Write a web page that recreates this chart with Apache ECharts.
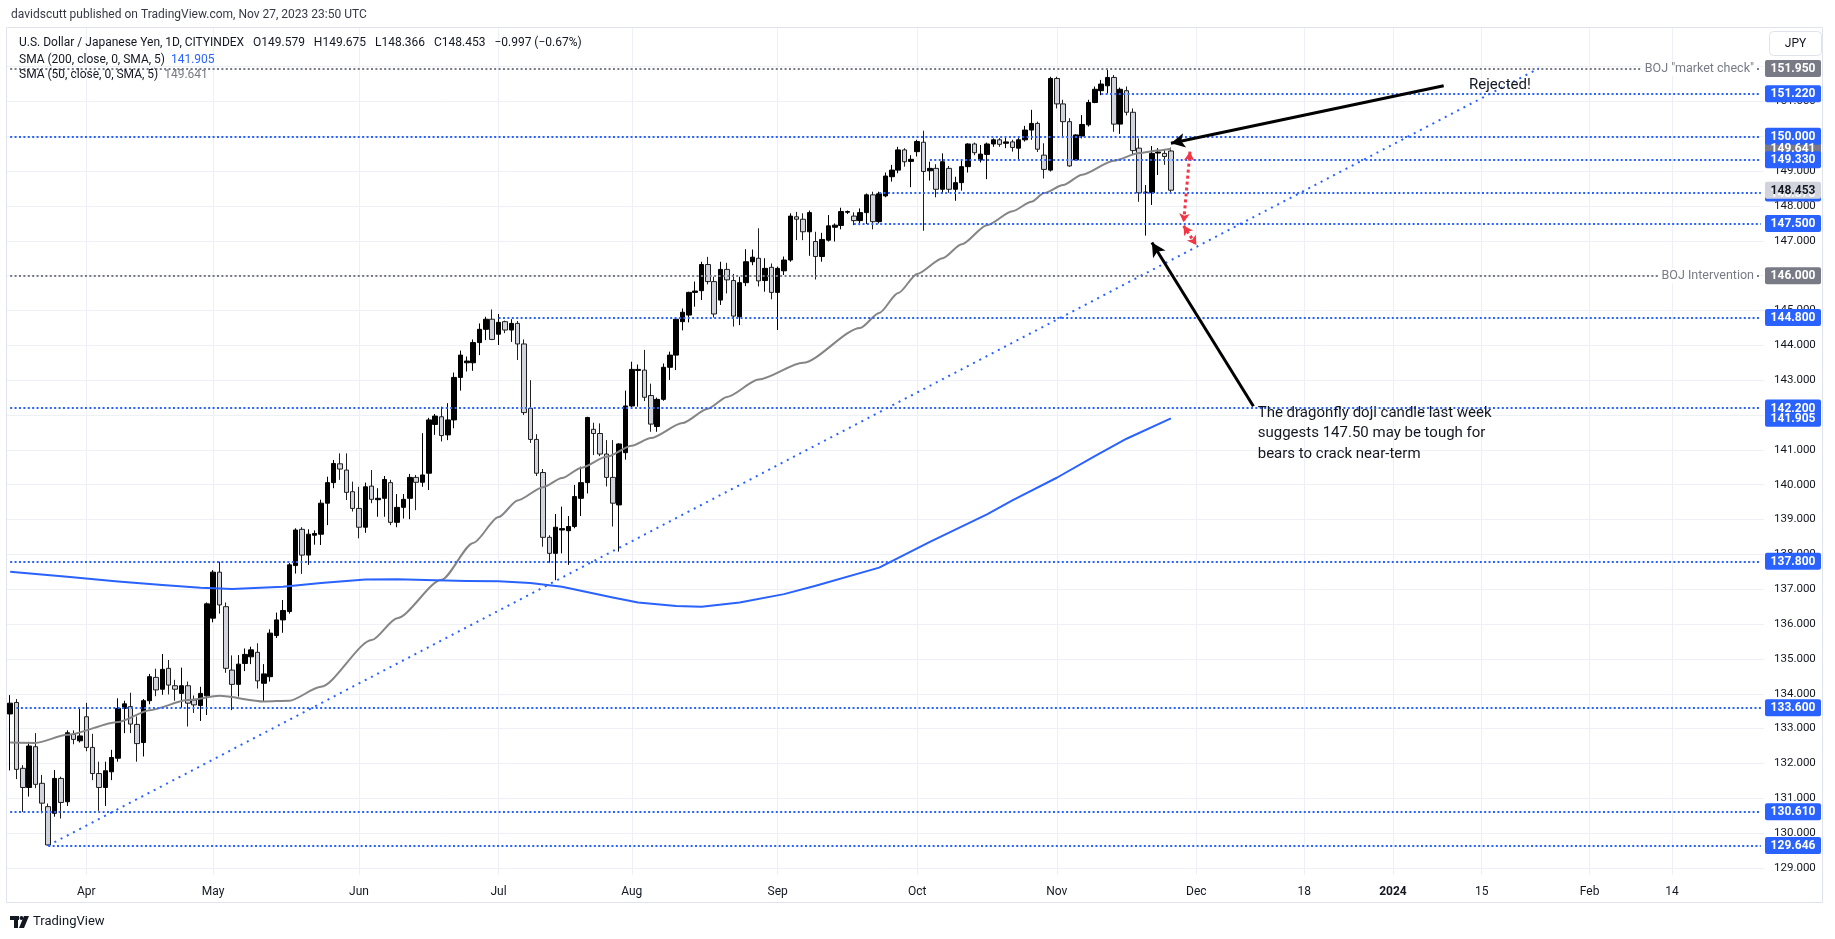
<!DOCTYPE html>
<html>
<head>
<meta charset="utf-8">
<script src="https://cdn.jsdelivr.net/npm/echarts@6/dist/echarts.min.js"></script>
<style>
  html, body { margin: 0; padding: 0; background: #fff; }
  #chart { width: 1835px; height: 939px; }
</style>
</head>
<body>
<div id="chart"></div>
<script>
const FONT = 'Roboto, "Liberation Sans", Arial, sans-serif';
const BLUE = '#2962ff';
const GREY = '#787b86';
const INK = '#131722';

// sessions of the feed: weekdays, plus one short Sunday bar
const sessionStart = '2023-03-16';
const sessionEnd = '2023-11-27';
const extraSessions = ['2023-09-17'];
const futureEnd = '2024-02-28';

const opens = [
  133.42, 133.75, 131.86, 131.31, 132.48, 131.43, 130.76, 130.57, 131.57, 130.90, 132.84, 132.65,
  133.34, 132.46, 131.71, 131.31, 131.76, 132.15, 133.58, 133.63, 133.12, 132.60, 133.80, 134.47, 134.13, 134.73, 134.23, 134.01, 134.23, 133.82, 133.66, 133.94,
  136.17, 137.49, 136.50, 134.68, 134.27, 134.87, 135.06, 135.19, 134.30, 134.49, 135.67, 136.12, 136.36, 137.68, 138.72, 137.98, 138.55, 138.58, 139.47, 140.06, 140.60, 140.42, 139.80,
  139.32, 138.78, 139.96, 139.57, 139.61, 140.06, 138.92, 139.35, 139.61, 140.21, 140.07, 140.33, 141.73, 141.95, 141.43, 141.86, 143.08, 143.50, 143.50, 144.08, 144.46, 144.75,
  144.32, 144.68, 144.44, 144.63, 144.04, 142.19, 141.30, 140.35, 138.49, 138.03, 138.70, 138.68, 138.80, 139.61, 140.06, 141.59, 141.47, 140.88, 140.21, 139.42, 140.92,
  142.26, 143.28, 143.29, 142.56, 141.67, 142.45, 143.37, 143.72, 144.68, 144.87, 145.52, 145.57, 146.32, 145.83, 145.30, 146.18, 145.86, 144.82, 145.80, 146.40, 146.50, 145.86, 146.24,
  145.52, 146.14, 146.45, 147.69, 147.62, 147.26, 146.98, 146.55, 147.02, 147.39, 147.44, 147.82, 147.71, 147.58, 147.81, 148.32, 147.55, 148.29, 148.84, 149.03, 149.61, 149.28,
  149.56, 149.83, 149.01, 149.08, 148.48, 149.08, 148.48, 148.67, 149.13, 149.78, 149.32, 149.48, 149.78, 149.90, 149.80, 149.84, 149.66, 149.90, 150.18, 150.37, 149.46, 149.03,
  151.66, 150.93, 150.42, 149.32, 150.01, 150.33, 150.97, 151.31, 151.45, 151.69, 150.35, 151.31, 150.69, 149.66, 148.38, 148.38, 149.52, 149.51, 149.579
];
const highs = [
  133.96, 133.85, 131.95, 132.62, 132.87, 131.67, 130.85, 131.81, 131.62, 132.95, 132.95, 133.58,
  133.74, 132.85, 132.05, 132.05, 132.39, 133.87, 133.80, 134.03, 133.35, 133.85, 134.57, 134.72, 135.14, 134.97, 134.40, 134.75, 134.35, 133.95, 134.20, 136.62,
  137.55, 137.79, 136.62, 135.10, 135.11, 135.30, 135.35, 135.45, 134.85, 135.85, 136.33, 136.69, 137.75, 138.75, 138.78, 138.72, 138.69, 139.57, 140.23, 140.71, 140.90, 140.90, 140.09,
  139.94, 140.06, 140.42, 139.90, 140.25, 140.14, 139.73, 139.73, 140.31, 140.28, 141.48, 141.92, 142.03, 142.24, 142.34, 143.22, 143.85, 143.68, 144.17, 144.63, 144.82, 145.03,
  144.90, 144.71, 144.75, 144.70, 144.17, 143.00, 141.45, 140.45, 138.55, 139.16, 139.37, 139.10, 139.99, 140.52, 141.95, 141.78, 141.76, 141.28, 141.28, 141.19, 142.70,
  143.53, 143.45, 143.87, 142.90, 142.50, 143.48, 143.82, 144.78, 145.06, 145.54, 145.83, 146.40, 146.54, 145.97, 146.40, 146.37, 146.05, 145.97, 146.76, 146.75, 147.36, 146.50, 146.35,
  146.26, 146.55, 147.79, 147.83, 147.79, 147.87, 147.26, 147.23, 147.74, 147.50, 147.95, 147.87, 147.82, 147.93, 148.36, 148.41, 148.41, 148.96, 149.18, 149.70, 149.66, 149.46,
  149.90, 150.16, 149.27, 149.20, 149.51, 149.15, 148.84, 149.32, 149.80, 149.82, 149.75, 149.82, 149.94, 149.95, 149.97, 149.90, 149.95, 150.30, 150.76, 150.42, 149.80, 151.71,
  151.71, 151.05, 150.52, 150.06, 150.61, 151.05, 151.43, 151.62, 151.91, 151.76, 151.40, 151.43, 150.80, 149.94, 148.60, 149.72, 149.66, 149.62, 149.675
];
const lows = [
  131.80, 131.55, 130.61, 131.05, 131.29, 130.57, 129.646, 130.47, 130.42, 130.78, 132.55, 132.60,
  132.35, 131.52, 130.64, 130.78, 131.52, 132.05, 132.87, 132.87, 132.05, 132.20, 133.70, 133.93, 133.97, 133.98, 133.80, 133.60, 133.06, 133.45, 133.22, 133.39,
  136.05, 136.30, 134.60, 133.53, 133.92, 134.65, 134.85, 134.15, 133.77, 134.35, 135.60, 135.75, 136.30, 137.45, 137.44, 137.70, 138.28, 138.27, 138.84, 139.90, 140.14, 139.56, 139.23,
  138.46, 138.62, 139.47, 139.08, 139.08, 138.84, 138.78, 139.03, 139.01, 139.27, 139.94, 139.85, 141.43, 141.24, 141.28, 141.62, 142.70, 143.25, 143.27, 143.72, 144.15, 144.15,
  144.01, 144.35, 144.10, 143.58, 142.00, 141.20, 140.25, 138.22, 137.76, 137.26, 138.03, 137.70, 138.75, 139.10, 139.75, 140.85, 140.82, 139.95, 138.80, 138.08, 140.72,
  142.19, 142.24, 142.40, 141.52, 141.52, 142.41, 143.01, 143.29, 144.43, 144.66, 145.11, 145.30, 145.75, 144.80, 145.16, 145.49, 144.54, 144.58, 145.70, 146.30, 145.69, 145.54, 145.32,
  144.44, 146.02, 146.40, 147.02, 147.02, 146.57, 145.89, 146.40, 146.98, 146.98, 147.33, 147.77, 147.45, 147.45, 147.48, 147.33, 147.50, 148.25, 148.70, 148.94, 149.13, 148.54,
  149.42, 147.29, 148.73, 148.25, 148.36, 148.38, 148.15, 148.44, 148.96, 149.46, 149.25, 148.77, 149.70, 149.70, 149.66, 149.56, 149.32, 149.85, 149.90, 149.55, 148.79, 148.99,
  150.80, 149.99, 149.13, 149.30, 149.94, 150.28, 150.95, 151.18, 151.23, 150.13, 150.07, 150.60, 149.46, 148.12, 147.15, 148.03, 148.89, 149.18, 148.366
];
const closes = [
  133.73, 131.83, 131.31, 132.50, 131.40, 130.86, 129.66, 131.57, 130.88, 132.88, 132.69, 132.79,
  132.46, 131.71, 131.31, 131.79, 132.17, 133.58, 133.71, 133.13, 132.57, 133.80, 134.49, 134.11, 134.70, 134.25, 134.13, 134.23, 133.73, 133.68, 134.01, 136.58,
  137.49, 136.55, 134.73, 134.27, 134.85, 135.13, 135.26, 134.37, 134.57, 135.74, 136.12, 136.39, 137.70, 138.70, 137.98, 138.58, 138.60, 139.47, 140.06, 140.61, 140.45, 139.78, 139.32,
  138.78, 139.94, 139.58, 139.61, 140.15, 138.92, 139.35, 139.58, 140.21, 140.07, 140.28, 141.86, 141.97, 141.41, 141.86, 143.08, 143.72, 143.55, 144.08, 144.46, 144.75, 144.17,
  144.66, 144.44, 144.63, 144.04, 142.07, 141.30, 140.33, 138.49, 138.03, 138.78, 138.74, 138.80, 139.66, 140.06, 141.93, 141.47, 140.88, 140.21, 139.47, 141.17, 142.26,
  143.31, 143.31, 142.51, 141.74, 142.45, 143.37, 143.72, 144.75, 144.95, 145.52, 145.56, 146.32, 145.83, 144.90, 146.18, 145.88, 144.84, 145.80, 146.40, 146.53, 145.85, 146.21, 145.52,
  146.21, 146.45, 147.71, 147.62, 147.26, 147.81, 146.55, 147.04, 147.43, 147.45, 147.84, 147.84, 147.58, 147.81, 148.32, 147.55, 148.35, 148.86, 149.03, 149.61, 149.27, 149.34,
  149.85, 148.99, 149.08, 148.48, 149.27, 148.48, 148.67, 149.13, 149.78, 149.53, 149.49, 149.78, 149.90, 149.77, 149.84, 149.68, 149.90, 150.18, 150.37, 149.63, 149.05, 151.66,
  150.93, 150.42, 149.15, 150.04, 150.34, 150.97, 151.35, 151.50, 151.69, 150.35, 151.35, 150.69, 149.59, 148.38, 148.40, 149.51, 149.55, 149.42, 148.453
];

// moving averages
const sma50 = [
  ['2023-03-16', 132.60], ['2023-03-22', 132.59], ['2023-03-29', 132.82], ['2023-04-10', 133.19],
  ['2023-04-17', 133.53], ['2023-04-25', 133.82], ['2023-05-02', 133.94], ['2023-05-11', 133.78],
  ['2023-05-17', 133.80], ['2023-05-24', 134.20], ['2023-06-05', 135.54], ['2023-06-09', 136.17],
  ['2023-06-20', 137.27], ['2023-06-27', 138.33], ['2023-07-03', 139.07], ['2023-07-06', 139.55],
  ['2023-07-12', 139.93], ['2023-07-17', 140.19], ['2023-07-20', 140.48], ['2023-07-26', 140.80],
  ['2023-08-01', 141.12], ['2023-08-04', 141.34], ['2023-08-11', 141.77], ['2023-08-17', 142.18],
  ['2023-08-22', 142.52], ['2023-08-29', 143.02], ['2023-09-07', 143.50], ['2023-09-19', 144.50],
  ['2023-09-22', 144.93], ['2023-09-27', 145.50], ['2023-10-02', 146.05], ['2023-10-06', 146.50],
  ['2023-10-11', 146.90], ['2023-10-17', 147.45], ['2023-10-23', 147.85], ['2023-10-26', 148.12],
  ['2023-10-30', 148.37], ['2023-11-02', 148.60], ['2023-11-07', 148.90], ['2023-11-14', 149.30],
  ['2023-11-20', 149.52], ['2023-11-23', 149.59], ['2023-11-27', 149.641]
];
const sma200 = [
  ['2023-03-16', 137.50], ['2023-03-29', 137.36], ['2023-04-10', 137.22], ['2023-04-19', 137.12],
  ['2023-04-27', 137.04], ['2023-05-04', 137.01], ['2023-05-16', 137.07], ['2023-05-24', 137.18],
  ['2023-06-02', 137.28], ['2023-06-09', 137.29], ['2023-06-19', 137.26], ['2023-06-26', 137.24],
  ['2023-07-03', 137.23], ['2023-07-10', 137.18], ['2023-07-17', 137.07], ['2023-07-27', 136.76],
  ['2023-08-02', 136.62], ['2023-08-10', 136.52], ['2023-08-16', 136.50], ['2023-08-24', 136.62],
  ['2023-09-04', 136.86], ['2023-09-11', 137.10], ['2023-09-22', 137.62], ['2023-10-04', 138.36],
  ['2023-10-17', 139.15], ['2023-10-23', 139.55], ['2023-11-01', 140.20], ['2023-11-09', 140.82],
  ['2023-11-16', 141.32], ['2023-11-27', 141.905]
];

const timeLabels = {
  '2023-04-03': 'Apr', '2023-05-01': 'May', '2023-06-01': 'Jun', '2023-07-03': 'Jul',
  '2023-08-01': 'Aug', '2023-09-01': 'Sep', '2023-10-02': 'Oct', '2023-11-01': 'Nov',
  '2023-12-01': 'Dec', '2023-12-18': '18', '2024-01-01': '2024', '2024-01-15': '15',
  '2024-02-01': 'Feb', '2024-02-14': '14'
};
const priceTicks = [129, 130, 131, 132, 133, 134, 135, 136, 137, 138, 139, 140,
  141, 142, 143, 144, 145, 146, 147, 148, 149, 150, 151, 152];

// drawn horizontal levels and where each one starts
const levelPrices = [151.95, 151.22, 150.00, 149.33, 148.37, 147.50, 146.00, 144.80, 142.20, 137.80, 133.60, 130.61, 129.646];
const levelStarts = ['2023-03-16', '2023-11-10', '2023-03-16', '2023-10-04', '2023-09-22', '2023-09-18',
  '2023-03-16', '2023-07-03', '2023-03-16', '2023-03-16', '2023-03-17', '2023-03-16', '2023-03-24'];
const greyLevels = [151.95, 146.00];
const levelNotes = { '151.95': 'BOJ "market check"', '146': 'BOJ Intervention' };

const trendLine = [['2023-03-24', 129.646], ['2024-01-24', 151.95]];

// ---- categories
function ymd(d) { return d.toISOString().slice(0, 10); }
const dates = [];
for (let d = new Date(sessionStart + 'T00:00:00Z'); ymd(d) <= sessionEnd; d.setUTCDate(d.getUTCDate() + 1)) {
  const s = ymd(d), wd = d.getUTCDay();
  if ((wd > 0 && wd < 6) || extraSessions.indexOf(s) >= 0) dates.push(s);
}
for (let d = new Date(sessionEnd + 'T00:00:00Z'); ;) {
  d.setUTCDate(d.getUTCDate() + 1);
  const s = ymd(d);
  if (s > futureEnd) break;
  dates.push(s);
}
const lastDate = dates[dates.length - 1];

const candles = opens.map((o, i) => [o, closes[i], lows[i], highs[i]]);

const gridMarks = priceTicks.map(v => ({ yAxis: v }))
  .concat(Object.keys(timeLabels).map(d => ({ xAxis: d })));

const levelMarks = levelPrices.map((v, i) => {
  const grey = greyLevels.indexOf(v) >= 0;
  return [
    { coord: [levelStarts[i], v], lineStyle: { color: grey ? GREY : BLUE, width: 2, type: [2, 2.4] } },
    { coord: [lastDate, v] }
  ];
});

const noLabel = { show: false };

const option = {
  animation: false,
  backgroundColor: '#fff',
  grid: { left: 7, top: 28, width: 1757, height: 847 },
  xAxis: {
    type: 'category',
    data: dates,
    boundaryGap: true,
    axisLine: { show: false },
    axisTick: { show: false },
    splitLine: { show: false },
    axisLabel: {
      interval: (i, v) => timeLabels[v] !== undefined,
      formatter: v => v === '2024-01-01' ? '{b|2024}' : timeLabels[v],
      color: INK, fontSize: 12, fontFamily: FONT, margin: 11,
      rich: { b: { fontWeight: 'bold', fontSize: 12, fontFamily: FONT, color: INK } }
    }
  },
  yAxis: {
    type: 'value',
    position: 'right',
    min: 128.798,
    max: 153.109,
    axisLine: { show: false },
    axisTick: { show: false },
    splitLine: { show: false },
    axisLabel: {
      customValues: priceTicks,
      formatter: v => v.toFixed(3),
      color: INK, fontSize: 11.5, fontFamily: FONT, margin: 10
    }
  },
  series: [
    {
      name: 'grid', type: 'line', data: [], z: 0, silent: true,
      markLine: {
        silent: true, z: 0, symbol: 'none', label: noLabel, animation: false,
        lineStyle: { color: '#eef0f5', width: 1, type: 'solid' },
        data: gridMarks
      }
    },
    {
      name: 'USDJPY', type: 'candlestick', data: candles, z: 3, barWidth: 5,
      itemStyle: { color: '#000000', color0: '#d1d4dc', borderColor: '#000000', borderColor0: '#1f1f1f', borderWidth: 1 }
    },
    {
      name: 'SMA 50', type: 'line', data: sma50, z: 4, showSymbol: false, smooth: 0.25, smoothMonotone: 'x',
      lineStyle: { color: '#858585', width: 2 }, silent: true
    },
    {
      name: 'SMA 200', type: 'line', data: sma200, z: 4, showSymbol: false, smooth: false,
      lineStyle: { color: BLUE, width: 2, join: 'round' }, silent: true
    },
    {
      name: 'drawings', type: 'line', data: [], z: 5, silent: true,
      markLine: {
        silent: true, z: 5, symbol: 'none', label: noLabel, animation: false,
        data: levelMarks.concat([
          [
            { coord: trendLine[0], lineStyle: { color: BLUE, width: 2, type: [2, 5] } },
            { coord: trendLine[1] }
          ]
        ])
      }
    },
    {
      name: 'arrows', type: 'line', data: [], z: 6, silent: true,
      markLine: {
        silent: true, z: 6, label: noLabel, animation: false,
        data: [
          [
            { coord: ['2024-01-09', 151.45], symbol: 'none', lineStyle: { color: '#000', width: 3, type: 'solid' } },
            { coord: ['2023-11-27', 149.80], symbol: 'arrow', symbolSize: [11, 14] }
          ],
          [
            { coord: ['2023-12-10', 142.25], symbol: 'none', lineStyle: { color: '#000', width: 3, type: 'solid' } },
            { coord: ['2023-11-22', 146.95], symbol: 'arrow', symbolSize: [11, 14] }
          ],
          [
            { coord: ['2023-11-30', 149.56], symbol: 'arrow', symbolSize: [8, 9], lineStyle: { color: '#f23645', width: 3, type: [3, 3], curveness: 0.2 } },
            { coord: ['2023-11-29', 147.53], symbol: 'arrow', symbolSize: [8, 9] }
          ],
          [
            { coord: ['2023-11-29', 147.43], symbol: 'arrow', symbolSize: [8, 9], lineStyle: { color: '#f23645', width: 3, type: [3, 3], curveness: 0.05 } },
            { coord: ['2023-12-01', 146.88], symbol: 'arrow', symbolSize: [8, 9] }
          ]
        ]
      }
    }
  ]
};

const chart = echarts.init(document.getElementById('chart'));
chart.setOption(option);

// ---- overlays: price tags, notes, header
const tags = [
  { v: 151.95, bg: GREY }, { v: 151.22, bg: BLUE }, { v: 149.641, bg: GREY },
  { v: 150.00, bg: BLUE }, { v: 149.33, bg: BLUE }, { v: 148.37, bg: BLUE },
  { v: 148.453, bg: '#d1d4dc', fg: INK }, { v: 147.50, bg: BLUE }, { v: 146.00, bg: GREY },
  { v: 144.80, bg: BLUE }, { v: 142.20, bg: BLUE }, { v: 141.905, bg: BLUE },
  { v: 137.80, bg: BLUE }, { v: 133.60, bg: BLUE }, { v: 130.61, bg: BLUE }, { v: 129.646, bg: BLUE }
];
const yPx = v => chart.convertToPixel({ yAxisIndex: 0 }, v);
const pt = (d, v) => chart.convertToPixel({ xAxisIndex: 0, yAxisIndex: 0 }, [d, v]);

const tagX = 1765;
const g = [];
g.push({ type: 'rect', shape: { x: 6.5, y: 27.5, width: 1816, height: 875 }, style: { fill: 'none', stroke: '#e0e3eb', lineWidth: 1 }, z: 1 });

tags.forEach(t => {
  const y = yPx(t.v);
  g.push({ type: 'rect', shape: { x: tagX, y: y - 8.5, width: 56, height: 17, r: 2 }, style: { fill: t.bg }, z: 20 });
  g.push({ type: 'text', style: { x: tagX + 28, y: y + 0.5, text: t.v.toFixed(3), fill: t.fg || '#fff', font: 'bold 12px ' + FONT, align: 'center', verticalAlign: 'middle', textAlign: 'center', textVerticalAlign: 'middle' }, z: 21 });
});

Object.keys(levelNotes).forEach(k => {
  const y = yPx(parseFloat(k));
  g.push({ type: 'text', style: { x: 1757, y: y, text: levelNotes[k], fill: GREY, font: '12.5px ' + FONT, align: 'right', verticalAlign: 'middle', textAlign: 'right', textVerticalAlign: 'middle', backgroundColor: '#fff', padding: [1, 3] }, z: 19 });
});

const rej = pt('2024-01-13', 151.47);
g.push({ type: 'text', style: { x: rej[0], y: rej[1], text: 'Rejected!', fill: INK, font: '15px ' + FONT, verticalAlign: 'middle', textVerticalAlign: 'middle' }, z: 19 });
const note = pt('2023-12-11', 142.09);
g.push({ type: 'text', style: { x: note[0] - 2, y: note[1] - 9, text: 'The dragonfly doji candle last week\nsuggests 147.50 may be tough for\nbears to crack near-term', fill: INK, font: '15px ' + FONT, lineHeight: 20.5 }, z: 19 });

// header
g.push({ type: 'text', style: { x: 11, y: 15, text: 'davidscutt published on TradingView.com, Nov 27, 2023 23:50 UTC', fill: '#363a45', font: '12px ' + FONT, verticalAlign: 'middle', textVerticalAlign: 'middle' }, z: 19 });
g.push({ type: 'text', style: { x: 19, y: 42.5, text: 'U.S. Dollar / Japanese Yen, 1D, CITYINDEX   O149.579   H149.675   L148.366   C148.453   \u22120.997 (\u22120.67%)', fill: INK, font: '12px ' + FONT, verticalAlign: 'middle', textVerticalAlign: 'middle' }, z: 19 });
g.push({ type: 'text', style: { x: 19, y: 59.5, text: '{a|SMA (200, close, 0, SMA, 5)}  {b|141.905}', font: '12px ' + FONT, verticalAlign: 'middle', textVerticalAlign: 'middle', rich: { a: { fill: INK, color: INK, font: '12px ' + FONT }, b: { fill: BLUE, color: BLUE, font: '12px ' + FONT } } }, z: 19 });
g.push({ type: 'text', style: { x: 19, y: 75, text: '{a|SMA (50, close, 0, SMA, 5)}  {b|149.641}', font: '12px ' + FONT, verticalAlign: 'middle', textVerticalAlign: 'middle', rich: { a: { fill: INK, color: INK, font: '12px ' + FONT }, b: { fill: GREY, color: GREY, font: '12px ' + FONT } } }, z: 19 });

// JPY scale button
g.push({ type: 'rect', shape: { x: 1769.5, y: 31.5, width: 52, height: 24, r: 4 }, style: { fill: '#fff', stroke: '#e0e3eb', lineWidth: 1 }, z: 20 });
g.push({ type: 'text', style: { x: 1795.5, y: 44, text: 'JPY', fill: INK, font: '12px ' + FONT, align: 'center', verticalAlign: 'middle', textAlign: 'center', textVerticalAlign: 'middle' }, z: 21 });

// footer logo
g.push({ type: 'rect', shape: { x: 10, y: 916, width: 9, height: 4 }, style: { fill: INK }, z: 19 });
g.push({ type: 'rect', shape: { x: 14, y: 916, width: 4, height: 12 }, style: { fill: INK }, z: 19 });
g.push({ type: 'circle', shape: { cx: 21.5, cy: 918, r: 2 }, style: { fill: INK }, z: 19 });
g.push({ type: 'polygon', shape: { points: [[24, 916], [29, 916], [24, 928], [19, 928]] }, style: { fill: INK }, z: 19 });
g.push({ type: 'text', style: { x: 33, y: 922, text: 'TradingView', fill: INK, font: '13px ' + FONT, verticalAlign: 'middle', textVerticalAlign: 'middle' }, z: 19 });

chart.setOption({ graphic: { elements: g } });
</script>
</body>
</html>
